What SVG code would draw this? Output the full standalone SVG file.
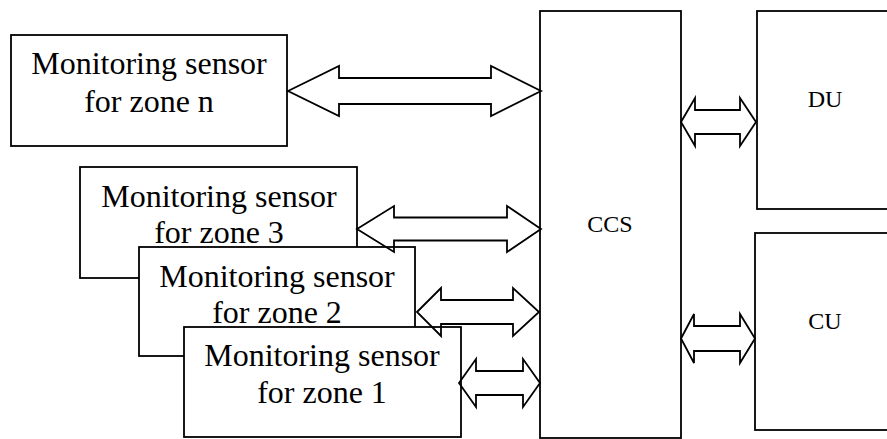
<svg xmlns="http://www.w3.org/2000/svg" width="887" height="439" viewBox="0 0 887 439">
<style>
.box{fill:#fff;stroke:#000;stroke-width:1.8}
.arr{fill:none;stroke:#000;stroke-width:1.8;stroke-linejoin:miter}
.big{font-family:"Liberation Serif","Times New Roman",serif;font-size:32px;fill:#000;text-anchor:middle}
.sm{font-family:"Liberation Serif","Times New Roman",serif;font-size:24px;fill:#000;text-anchor:middle}
</style>
<rect width="887" height="439" fill="#fff"/>
<g id="ccs">
<rect class="box" x="540" y="11" width="141" height="427"/>
<text class="sm" x="610" y="232">CCS</text>
</g>
<g id="du">
<rect class="box" x="757" y="11" width="140" height="198"/>
<text class="sm" x="825" y="107">DU</text>
</g>
<g id="cu">
<rect class="box" x="755" y="233" width="142" height="197"/>
<text class="sm" x="825" y="329">CU</text>
</g>
<g id="sensor-n">
<rect class="box" x="11" y="35" width="276" height="111"/>
<text class="big" x="149" y="74">Monitoring sensor</text>
<text class="big" x="149" y="112">for zone n</text>
</g>
<g id="sensor-3">
<rect class="box" x="80" y="167" width="277" height="111"/>
<text class="big" x="219" y="207">Monitoring sensor</text>
<text class="big" x="219" y="243">for zone 3</text>
</g>
<g id="sensor-2">
<rect class="box" x="139" y="247" width="276" height="109"/>
<text class="big" x="277" y="287">Monitoring sensor</text>
<text class="big" x="277" y="323">for zone 2</text>
</g>
<g id="sensor-1">
<rect class="box" x="184" y="327" width="277" height="110"/>
<text class="big" x="322" y="366">Monitoring sensor</text>
<text class="big" x="322" y="403">for zone 1</text>
</g>
<g id="connectors">
<path class="arr" d="M288,91 L339,66 L339,78 L491,78 L491,66 L541,91 L491,116 L491,104 L339,104 L339,116 Z"/>
<path class="arr" d="M357,229 L394,206 L394,217.5 L507,217.5 L507,206 L541,229 L507,252 L507,240.5 L394,240.5 L394,252 Z"/>
<path class="arr" d="M417,312 L441,288 L441,300 L513,300 L513,288 L539,312 L513,336 L513,324 L441,324 L441,336 Z"/>
<path class="arr" d="M459,383 L476,359 L476,371 L523,371 L523,359 L540,383 L523,407 L523,395 L476,395 L476,407 Z"/>
<path class="arr" d="M681,122 L695,98 L695,110 L740,110 L740,98 L756,122 L740,146 L740,134 L695,134 L695,146 Z"/>
<path class="arr" d="M681,338.5 L694,314 L694,326 L740,326 L740,314 L755,338.5 L740,363 L740,351 L694,351 L694,363 Z"/>
</g>
</svg>
